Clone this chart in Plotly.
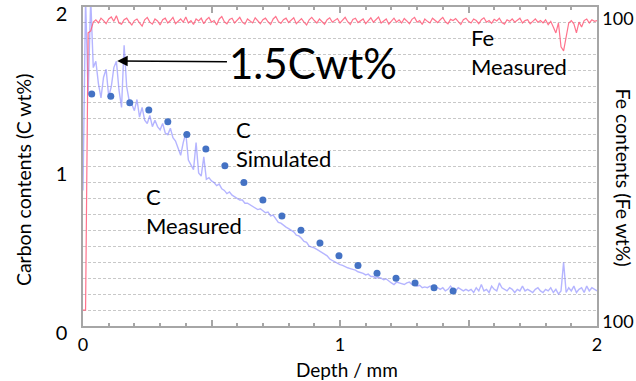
import numpy as np
import plotly.graph_objects as go

# ---------------- data ----------------
DEPTH_STEP = 0.01
C_MEASURED = [
    0.85, 2.05, 1.45, 2.05, 1.62, 1.66, 1.52, 1.43, 1.56, 1.61,
    1.44, 1.50, 1.62, 1.66, 1.48, 1.37, 1.76, 1.50, 1.41, 1.39,
    1.35, 1.42, 1.31, 1.37, 1.29, 1.27, 1.32, 1.25, 1.29, 1.25,
    1.23, 1.27, 1.21, 1.20, 1.24, 1.18, 1.16, 1.12, 1.07, 1.15,
    1.21, 1.04, 1.01, 0.98, 1.15, 0.96, 0.94, 1.06, 0.92, 0.93,
    0.91, 0.90, 0.88, 0.89, 0.86, 0.85, 0.83, 0.84, 0.82, 0.81,
    0.80, 0.79, 0.79, 0.77, 0.77, 0.76, 0.75, 0.745, 0.73, 0.735,
    0.72, 0.71, 0.715, 0.69, 0.695, 0.67, 0.65, 0.645, 0.63, 0.62,
    0.61, 0.60, 0.59, 0.57, 0.565, 0.55, 0.53, 0.525, 0.50, 0.495,
    0.49, 0.48, 0.47, 0.465, 0.45, 0.44, 0.42, 0.41, 0.40, 0.395,
    0.385, 0.38, 0.37, 0.365, 0.36, 0.355, 0.35, 0.34, 0.335, 0.33,
    0.32, 0.325, 0.31, 0.31, 0.30, 0.305, 0.30, 0.29, 0.295, 0.28,
    0.27, 0.26, 0.275, 0.27, 0.265, 0.26, 0.27, 0.275, 0.26, 0.265,
    0.25, 0.255, 0.24, 0.245, 0.24, 0.25, 0.25, 0.24, 0.24, 0.23,
    0.24, 0.22, 0.23, 0.25, 0.23, 0.22, 0.24, 0.23, 0.22, 0.23,
    0.22, 0.23, 0.21, 0.24, 0.22, 0.26, 0.22, 0.23, 0.21, 0.25,
    0.23, 0.22, 0.27, 0.24, 0.23, 0.22, 0.24, 0.23, 0.21, 0.23,
    0.22, 0.25, 0.22, 0.23, 0.22, 0.21, 0.23, 0.24, 0.22, 0.21,
    0.23, 0.22, 0.24, 0.21, 0.23, 0.20, 0.22, 0.40, 0.21, 0.24,
    0.22, 0.25, 0.21, 0.23, 0.24, 0.21, 0.25, 0.22, 0.24, 0.23,
    0.22,
]
FE_MEASURED = [
    99.640, 99.640, 100.335, 100.340, 100.362, 100.368, 100.360, 100.372, 100.366, 100.358,
    100.370, 100.375, 100.364, 100.378, 100.360, 100.357, 100.368, 100.372, 100.362, 100.355,
    100.366, 100.370, 100.360, 100.352, 100.368, 100.374, 100.362, 100.357, 100.370, 100.365,
    100.355, 100.368, 100.372, 100.360, 100.366, 100.374, 100.358, 100.364, 100.370, 100.362,
    100.375, 100.360, 100.366, 100.356, 100.370, 100.365, 100.372, 100.358, 100.368, 100.374,
    100.362, 100.366, 100.355, 100.370, 100.376, 100.363, 100.358, 100.369, 100.372, 100.360,
    100.366, 100.374, 100.362, 100.357, 100.370, 100.366, 100.360, 100.373, 100.365, 100.358,
    100.368, 100.372, 100.363, 100.356, 100.370, 100.376, 100.364, 100.359, 100.368, 100.372,
    100.361, 100.367, 100.373, 100.358, 100.366, 100.371, 100.362, 100.355, 100.368, 100.374,
    100.366, 100.360, 100.370, 100.364, 100.357, 100.368, 100.373, 100.362, 100.366, 100.371,
    100.360, 100.367, 100.374, 100.363, 100.356, 100.369, 100.372, 100.361, 100.366, 100.370,
    100.358, 100.366, 100.373, 100.362, 100.368, 100.375, 100.360, 100.364, 100.370, 100.357,
    100.366, 100.372, 100.362, 100.368, 100.360, 100.371, 100.365, 100.358, 100.369, 100.374,
    100.362, 100.366, 100.356, 100.370, 100.364, 100.360, 100.372, 100.366, 100.361, 100.368,
    100.374, 100.363, 100.358, 100.369, 100.366, 100.371, 100.362, 100.356, 100.368, 100.372,
    100.364, 100.360, 100.370, 100.366, 100.358, 100.368, 100.373, 100.362, 100.366, 100.359,
    100.369, 100.365, 100.372, 100.361, 100.357, 100.368, 100.364, 100.370, 100.362, 100.366,
    100.372, 100.360, 100.366, 100.368, 100.358, 100.364, 100.370, 100.362, 100.366, 100.360,
    100.368, 100.356, 100.364, 100.350, 100.335, 100.360, 100.300, 100.290, 100.330, 100.360,
    100.366, 100.358, 100.335, 100.362, 100.350, 100.366, 100.370, 100.360, 100.368, 100.364,
    100.366,
]
DEPTH = list(np.round(np.arange(len(C_MEASURED)) * DEPTH_STEP, 3))

SIM_DEPTH = [0.034, 0.108, 0.182, 0.256, 0.330, 0.404, 0.478, 0.552, 0.626, 0.700,
             0.774, 0.848, 0.922, 0.996, 1.070, 1.144, 1.218, 1.292, 1.366, 1.440]
C_SIMULATED = [1.455, 1.44, 1.40, 1.355, 1.28, 1.20, 1.11, 1.005, 0.90, 0.79,
               0.69, 0.60, 0.52, 0.44, 0.38, 0.33, 0.30, 0.27, 0.24, 0.22]

X_TICKS = [0, 0.5, 1, 1.5, 2]
X_TICK_LABELS = ["0", "", "1", "", "2"]
Y_TICKS = [0, 1, 2]
FE_RANGE = [99.6, 100.4]
FE_TICKS = [99.61, 100.37]

FONT = "Lato"
AXIS_GREY = "#a6a6a6"
GRID_GREY = "#c8c8c8"

fig = go.Figure()
fig.add_trace(go.Scatter(
    x=DEPTH, y=FE_MEASURED, yaxis="y2", mode="lines",
    line=dict(color="rgba(255,90,120,0.85)", width=1.2), showlegend=False))
fig.add_trace(go.Scatter(
    x=DEPTH, y=C_MEASURED, mode="lines",
    line=dict(color="rgba(120,120,255,0.55)", width=1.4), showlegend=False))
fig.add_trace(go.Scatter(
    x=SIM_DEPTH, y=C_SIMULATED, mode="markers",
    marker=dict(color="#4472C4", size=7), showlegend=False))

fig.update_layout(
    width=636, height=381,
    margin=dict(l=83, r=39, t=7, b=55),
    paper_bgcolor="white", plot_bgcolor="white",
    font=dict(family=FONT, color="black", size=18),
    xaxis=dict(
        range=[0, 2], tickvals=X_TICKS, ticktext=X_TICK_LABELS,
        ticks="inside", ticklen=6, tickcolor=AXIS_GREY, tickwidth=1.5,
        minor=dict(dtick=0.1, ticks="inside", ticklen=3, tickcolor=AXIS_GREY),
        showline=True, linecolor=AXIS_GREY, linewidth=1.5, mirror="ticks",
        showgrid=False, zeroline=False, tickfont=dict(size=18),
        automargin=False, ticklabeloverflow="allow", ticklabelstandoff=2,
    ),
    yaxis=dict(
        range=[0, 2], tickvals=Y_TICKS, ticks="",
        showline=True, linecolor=AXIS_GREY, linewidth=1.5,
        showgrid=True, gridcolor=GRID_GREY, griddash="3px,2px", gridwidth=1,
        minor=dict(dtick=0.1, showgrid=True, gridcolor=GRID_GREY, griddash="3px,2px", gridwidth=1),
        zeroline=False, tickfont=dict(size=20), ticklabelstandoff=10,
        automargin=False, ticklabeloverflow="allow", ticklabelshift=7,
    ),
    yaxis2=dict(
        range=FE_RANGE, tickvals=FE_TICKS, tickformat=".0f",
        overlaying="y", side="right", showgrid=False, zeroline=False,
        showline=True, linecolor=AXIS_GREY, linewidth=1.5, ticks="",
        tickfont=dict(size=18), automargin=False, ticklabeloverflow="allow",
        ticklabelstandoff=0,
    ),
)

ann = [
    dict(text="Carbon contents (C wt%)", xref="paper", yref="paper", x=-0.117, y=0.46,
         xanchor="center", yanchor="middle",
         textangle=-90, showarrow=False, font=dict(size=19.5)),
    dict(text="Fe contents (Fe wt%)", xref="paper", yref="paper", x=1.051, y=0.465,
         xanchor="center", yanchor="middle",
         textangle=90, showarrow=False, font=dict(size=19.5)),
    dict(text="Depth / mm", xref="paper", yref="paper", x=0.514, y=-0.136,
         xanchor="center", yanchor="middle",
         showarrow=False, font=dict(size=19)),
    dict(text="1.5Cwt%", x=0.56, y=1.65, xanchor="left", yanchor="middle",
         showarrow=False, font=dict(size=42)),
    dict(text="", x=0.133, y=1.662, ax=0.566, ay=1.656, axref="x", ayref="y",
         showarrow=True, arrowhead=2, arrowsize=1.4, arrowwidth=1.5, arrowcolor="black"),
    dict(text="C<br>Simulated", x=0.586, y=1.14, xanchor="left", yanchor="middle",
         align="left", showarrow=False, font=dict(size=22)),
    dict(text="C<br>Measured", x=0.238, y=0.72, xanchor="left", yanchor="middle",
         align="left", showarrow=False, font=dict(size=22)),
    dict(text="Fe<br>Measured", x=1.50, y=1.715, xanchor="left", yanchor="middle",
         align="left", showarrow=False, font=dict(size=22)),
]
fig.update_layout(annotations=ann)

fig.write_html("out.html", config={"displayModeBar": False},
               post_script="document.body.style.margin='0px';")
